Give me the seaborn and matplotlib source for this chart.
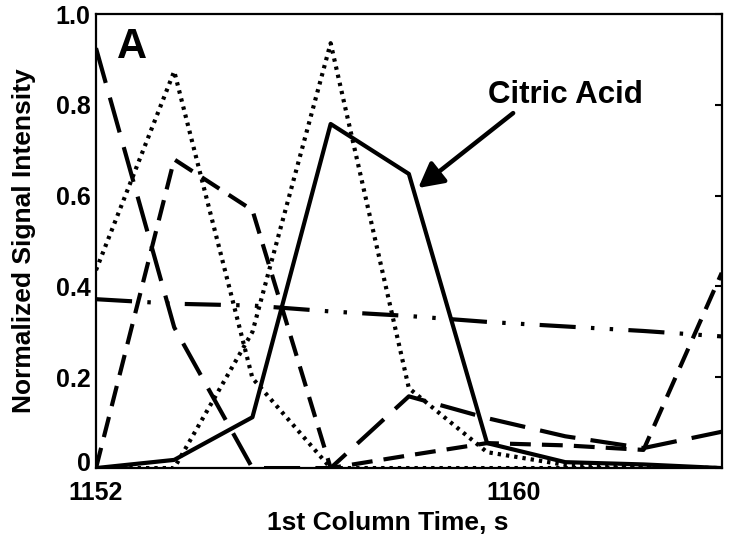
import pandas as pd
import numpy as np
import seaborn as sns
import matplotlib.pyplot as plt
import matplotlib.transforms as mtransforms

# retention times (1st column, s) - one point per modulation
times = [1152, 1153.5, 1155, 1156.5, 1158, 1159.5, 1161, 1162.5, 1164]

citric_acid = [0, 0.018, 0.112, 0.758, 0.648, 0.055, 0.013, 0.008, 0]
dotted_early = [0.436, 0.874, 0.198, 0, 0, 0, 0, 0, 0]
dotted_late = [0, 0, 0.30, 0.936, 0.176, 0.035, 0.007, 0.003, 0]
long_dash = [0.925, 0.31, 0, 0, 0.158, 0.11, 0.07, 0.044, 0.08]
short_dash = [0, 0.68, 0.568, 0, 0.028, 0.055, 0.05, 0.04, 0.43]
dash_dot = [0.372, 0.362, 0.358, 0.345, 0.335, 0.322, 0.312, 0.302, 0.29]

series = {
    "dash_dot": dash_dot,
    "long_dash": long_dash,
    "short_dash": short_dash,
    "dotted_early": dotted_early,
    "dotted_late": dotted_late,
    "citric": citric_acid,
}
rows = []
for name, vals in series.items():
    for t, v in zip(times, vals):
        rows.append({"time": t, "intensity": v, "trace": name})
df = pd.DataFrame(rows)

sns.set_style("white")
plt.rcParams["font.family"] = ["Liberation Sans", "DejaVu Sans"]
plt.rcParams["font.weight"] = "bold"
plt.rcParams["lines.scale_dashes"] = False
for key in ["text.color", "axes.labelcolor", "xtick.color", "ytick.color"]:
    plt.rcParams[key] = "black"

dashes = {
    "citric": "",
    "dotted_early": (2.4, 3.6),
    "dotted_late": (2.4, 3.6),
    "long_dash": (26, 11),
    "short_dash": (15, 8),
    "dash_dot": (26, 11, 2.5, 11, 2.5, 11),
}

fig, ax = plt.subplots(figsize=(7.29, 5.43), dpi=100)
fig.subplots_adjust(left=0.1317, right=0.99, bottom=0.138, top=0.974)

sns.lineplot(data=df, x="time", y="intensity", style="trace", dashes=dashes,
             color="k", lw=3.0, legend=False, ax=ax,
             style_order=list(series.keys()))

ax.set_xlim(1152, 1164)
ax.set_ylim(0, 1.0)
ax.set_xticks([1152, 1160])
ax.set_yticks([0, 0.2, 0.4, 0.6, 0.8, 1.0])
ax.set_yticklabels(["0", "0.2", "0.4", "0.6", "0.8", "1.0"])
ax.tick_params(axis="y", direction="in", length=5, width=1.5, right=True,
               labelsize=18, pad=4)
ax.tick_params(axis="x", length=0, labelsize=18, pad=9)
for sp in ax.spines.values():
    sp.set_visible(True)
    sp.set_linewidth(1.6)
    sp.set_color("k")

# nudge the "0" label up a little so it does not collide with "1152"
zero_lab = ax.get_yticklabels()[0]
zero_lab.set_transform(zero_lab.get_transform() +
                       mtransforms.ScaledTranslation(0, 5 / 72, fig.dpi_scale_trans))

ax.set_xlabel("1st Column Time, s", fontsize=19, fontweight="bold")
ax.xaxis.set_label_coords(0.466, -0.095)
ax.set_ylabel("Normalized Signal Intensity", fontsize=19, fontweight="bold", labelpad=14)

ax.text(1152.69, 0.903, "A", fontsize=30, fontweight="bold", ha="center", va="baseline")
ax.text(1161.0, 0.804, "Citric Acid", fontsize=22.5, fontweight="bold", ha="center", va="baseline")
ax.annotate("", xy=(1158.18, 0.617), xytext=(1160.0, 0.782),
            arrowprops=dict(arrowstyle="-|>,head_length=0.75,head_width=0.4",
                            lw=3.2, color="k", shrinkA=0, shrinkB=0, mutation_scale=20))

plt.savefig("out.png", dpi=100)
